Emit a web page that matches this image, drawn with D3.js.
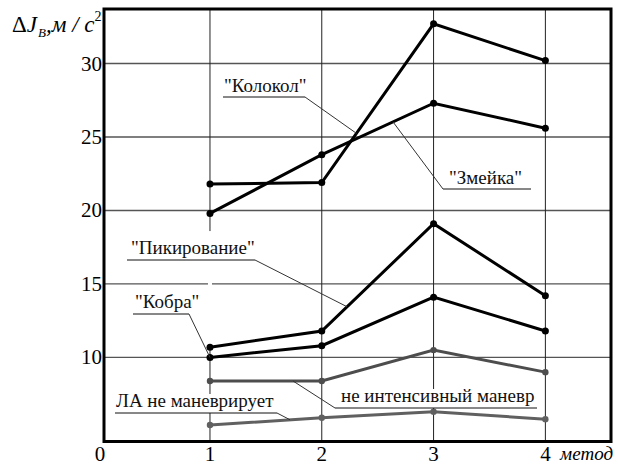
<!DOCTYPE html>
<html>
<head>
<meta charset="utf-8">
<script src="https://cdn.jsdelivr.net/npm/d3@7"></script>
</head>
<body style="margin:0">
<script>
// method numbers on the x axis
const methods = [1, 2, 3, 4];

// values, m/s^2
const kolokol = [21.8, 21.9, 32.7, 30.2];
const zmeika = [19.8, 23.8, 27.3, 25.6];
const pikirovanie = [10.7, 11.8, 19.1, 14.2];
const kobra = [10.0, 10.8, 14.1, 11.8];
const neIntensiv = [8.4, 8.4, 10.5, 9.0];
const laNeManevr = [5.4, 5.9, 6.3, 5.8];

const xTicks = [0, 1, 2, 3, 4];
const yTicks = [10, 15, 20, 25, 30];

const width = 618;
const height = 465;
const fontStack = '"Times New Roman"';

const svg = d3.select('body').append('svg')
    .attr('width', width)
    .attr('height', height);

const x = d3.scaleLinear().domain([0.052, 4.587]).range([104, 611]);
const y = d3.scaleLinear().domain([4.28, 33.71]).range([441.5, 9]);

const [x0, x1] = x.range();
const [y0, y1] = y.range();

// text helper, sets the serif family on the element itself
function addText(parent, px, py, size, str) {
    return parent.append('text')
        .attr('x', px).attr('y', py)
        .attr('font-size', size)
        .style('font-family', fontStack)
        .text(str);
}

// grid
svg.append('g').selectAll('line')
    .data(yTicks)
    .enter().append('line')
    .attr('x1', x0).attr('x2', x1)
    .attr('y1', d => y(d)).attr('y2', d => y(d))
    .attr('stroke', '#555').attr('stroke-width', 1.3);

svg.append('g').selectAll('line')
    .data(methods)
    .enter().append('line')
    .attr('x1', d => x(d)).attr('x2', d => x(d))
    .attr('y1', y1).attr('y2', y0)
    .attr('stroke', '#222').attr('stroke-width', 1);

// the first vertical grid line is broken under the labels
svg.append('rect')
    .attr('x', x(1) - 2).attr('width', 4)
    .attr('y', y(18.6)).attr('height', y(10.8) - y(18.6))
    .attr('fill', '#fff');

// series
const series = [
    { values: laNeManevr, color: '#606060', r: 3.2 },
    { values: neIntensiv, color: '#4d4d4d', r: 3.2 },
    { values: kobra, color: '#000', r: 3.5 },
    { values: pikirovanie, color: '#000', r: 3.5 },
    { values: zmeika, color: '#000', r: 3.5 },
    { values: kolokol, color: '#000', r: 3.5 }
];

const line = d3.line()
    .x((d, i) => x(methods[i]))
    .y(d => y(d));

series.forEach(s => {
    svg.append('path')
        .attr('d', line(s.values))
        .attr('fill', 'none')
        .attr('stroke', s.color)
        .attr('stroke-width', 3);
    svg.append('g').selectAll('circle')
        .data(s.values)
        .enter().append('circle')
        .attr('cx', (d, i) => x(methods[i]))
        .attr('cy', d => y(d))
        .attr('r', s.r)
        .attr('fill', s.color);
});

// value of a series between two methods
function valueAt(values, m) {
    let i = Math.min(Math.floor(m) - 1, values.length - 2);
    let t = m - (i + 1);
    return values[i] + (values[i + 1] - values[i]) * t;
}

// labels: text position, underline, and the point on the series the leader goes to
const labels = [
    { text: '"Колокол"', tx: 224, ty: 92, ux0: 223, ux1: 305, uy: 97, end: 'right', values: kolokol, m: 2.31 },
    { text: '"Змейка"', tx: 449, ty: 184, ux0: 443, ux1: 531, uy: 189, end: 'left', values: zmeika, m: 2.637 },
    { text: '"Пикирование"', tx: 131, ty: 254, ux0: 127, ux1: 255, uy: 260, end: 'right', values: pikirovanie, m: 2.226 },
    { text: '"Кобра"', tx: 135, ty: 308, ux0: 133, ux1: 189, uy: 314, end: 'right', values: kobra, m: 1 },
    { text: 'не интенсивный маневр', tx: 341, ty: 402, ux0: 335, ux1: 537, uy: 408, end: 'left', values: neIntensiv, m: 1.742 },
    { text: 'ЛА не маневрирует', tx: 116, ty: 407, ux0: 115, ux1: 277, uy: 413, end: 'right', values: laNeManevr, m: 1.716 }
];

labels.forEach(l => {
    // white box behind the text hides the grid
    svg.append('rect')
        .attr('x', l.ux0).attr('y', l.ty - 13)
        .attr('width', l.ux1 - l.ux0).attr('height', l.uy - l.ty + 13)
        .attr('fill', '#fff');
    addText(svg, l.tx, l.ty, 19, l.text).attr('fill', '#111');
    svg.append('line')
        .attr('x1', l.ux0).attr('x2', l.ux1)
        .attr('y1', l.uy).attr('y2', l.uy)
        .attr('stroke', '#111').attr('stroke-width', 1);
    const sx = l.end === 'right' ? l.ux1 : l.ux0;
    svg.append('line')
        .attr('x1', sx).attr('y1', l.uy)
        .attr('x2', x(l.m)).attr('y2', y(valueAt(l.values, l.m)))
        .attr('stroke', '#333').attr('stroke-width', 1);
});

// frame
svg.append('rect')
    .attr('x', x0).attr('y', y1)
    .attr('width', x1 - x0).attr('height', y0 - y1)
    .attr('fill', 'none')
    .attr('stroke', '#000')
    .attr('stroke-width', 3);

// tick labels
yTicks.forEach(d => {
    addText(svg, x0 - 2, y(d) + 7, 21, d).attr('text-anchor', 'end');
});

xTicks.forEach(d => {
    addText(svg, d === 0 ? x0 - 4 : x(d), 461, 21, d).attr('text-anchor', 'middle');
});

addText(svg, 613, 460, 19, 'метод')
    .attr('text-anchor', 'end')
    .attr('font-style', 'italic');

// y axis title
const title = addText(svg, 12, 32, 23, null);
title.append('tspan').text('Δ');
title.append('tspan').attr('font-style', 'italic').text('J');
title.append('tspan').attr('font-style', 'italic').attr('font-size', 13).attr('dy', 5).attr('dx', 1).text('В');
title.append('tspan').attr('font-style', 'italic').attr('dy', -5).text(',м / с');
title.append('tspan').attr('font-size', 14).attr('dy', -11).text('2');
</script>
</body>
</html>
